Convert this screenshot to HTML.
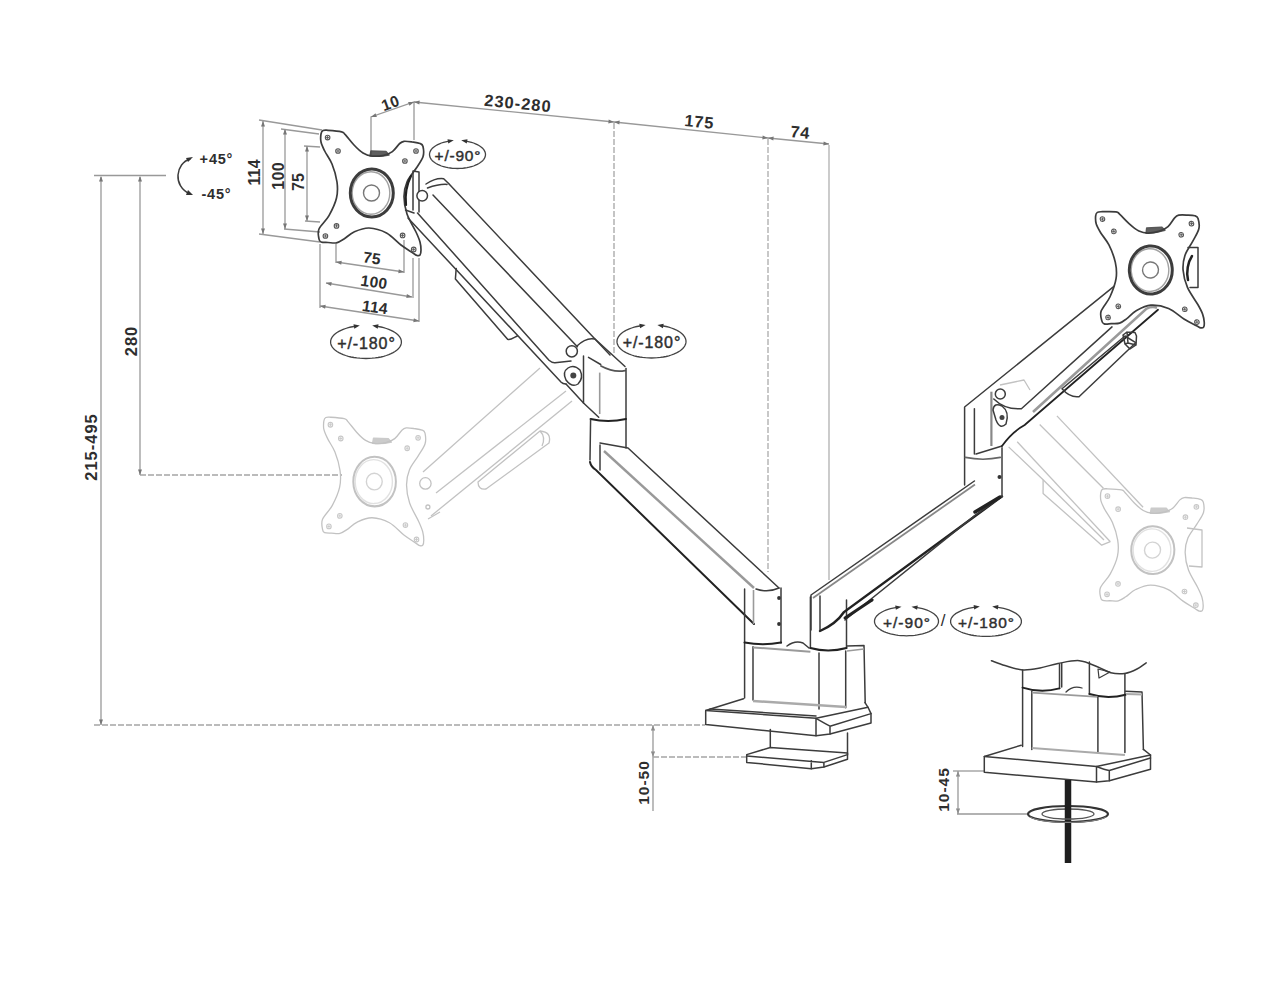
<!DOCTYPE html><html><head><meta charset="utf-8"><style>
*{margin:0;padding:0}
html,body{width:1270px;height:986px;background:#fff;overflow:hidden}
svg{display:block}
.m{color:#444;fill:none;stroke:#3c3c3c;stroke-width:1.5;stroke-linejoin:round;stroke-linecap:round}
.mf{color:#444;fill:#fff;stroke:#3c3c3c;stroke-width:1.5;stroke-linejoin:round}
.mh{fill:none;stroke:#555;stroke-width:1.1}
.k{fill:none;stroke:#222;stroke-width:2.4;stroke-linecap:round}
.lg{fill:none;stroke:#9a9a9a;stroke-width:1.6}
.d{fill:none;stroke:#999;stroke-width:1.3}
.dd{fill:none;stroke:#a5a5a5;stroke-width:1.3;stroke-dasharray:6 2}
.g{color:#c2c2c2;fill:none;stroke:#c2c2c2;stroke-width:1.3;stroke-linejoin:round}
.gh{fill:none;stroke:#c8c8c8;stroke-width:1.1}
.t{font-family:"Liberation Sans",sans-serif;font-size:15px;fill:#2e2e2e;font-weight:bold}
.ts{font-family:"Liberation Sans",sans-serif;font-size:13px;fill:#333;font-weight:bold}
</style></head><body>
<svg width="1270" height="986" viewBox="0 0 1270 986">
<defs><marker id="ar" viewBox="0 0 10 10" refX="10" refY="5" markerWidth="7" markerHeight="7" orient="auto-start-reverse"><path d="M0,2 L10,5 L0,8 z" fill="#777"/></marker></defs>
<line class="d" x1="94" y1="175.5" x2="166" y2="175.5"/>
<line class="d" x1="101" y1="725" x2="101" y2="177"/>
<line class="d" x1="140" y1="475" x2="140" y2="177"/>
<line class="dd" x1="94" y1="725" x2="705" y2="725"/>
<line class="dd" x1="140" y1="475" x2="342" y2="475"/>
<path class="m" d="M190,159 C176,163 172,186 190,194" />
<path d="M186,158 L193,157 L188,162 Z" fill="#333"/><path d="M186,195 L193,195 L188,190 Z" fill="#333"/>
<line class="d" x1="263" y1="121" x2="263" y2="234"/>
<line class="d" x1="259" y1="120" x2="322" y2="130"/><line class="d" x1="259" y1="234" x2="320" y2="242"/>
<line class="d" x1="285" y1="129" x2="285" y2="229"/>
<line class="d" x1="281" y1="129" x2="319" y2="134"/><line class="d" x1="284" y1="229" x2="320" y2="232"/>
<line class="d" x1="307" y1="146" x2="307" y2="221"/>
<line class="d" x1="304" y1="146" x2="320" y2="147"/><line class="d" x1="305" y1="221" x2="320" y2="222"/>
<line class="d" x1="336" y1="262" x2="404" y2="272"/>
<line class="d" x1="326" y1="283" x2="412" y2="297"/>
<line class="d" x1="320" y1="306" x2="419" y2="321"/>
<line class="d" x1="320" y1="244" x2="320" y2="308"/>
<line class="d" x1="336" y1="244" x2="336" y2="263"/>
<line class="d" x1="404" y1="240" x2="404" y2="273"/>
<line class="d" x1="413" y1="258" x2="413" y2="298"/>
<line class="d" x1="419" y1="258" x2="419" y2="322"/>
<polyline class="d" points="371,156 371,117 414,102 414,140"/>
<polyline class="d" points="414,102 614,122 768,138 829,144"/>
<line class="dd" x1="614" y1="123" x2="614" y2="354"/>
<line class="dd" x1="768" y1="139" x2="768" y2="572" style="stroke:#ababab"/>
<line class="d" x1="829" y1="145" x2="829" y2="580" style="stroke:#b0b0b0"/>
<path d="M101.0,176.0 L103.0,181.5 L99.0,181.5 Z" fill="#777"/><path d="M101.0,725.0 L99.0,719.5 L103.0,719.5 Z" fill="#777"/>
<path d="M140.0,176.0 L142.0,181.5 L138.0,181.5 Z" fill="#777"/><path d="M140.0,475.0 L138.0,469.5 L142.0,469.5 Z" fill="#777"/>
<path d="M263.0,121.0 L265.0,126.5 L261.0,126.5 Z" fill="#777"/><path d="M263.0,234.0 L261.0,228.5 L265.0,228.5 Z" fill="#777"/>
<path d="M285.0,129.0 L287.0,134.5 L283.0,134.5 Z" fill="#777"/><path d="M285.0,229.0 L283.0,223.5 L287.0,223.5 Z" fill="#777"/>
<path d="M307.0,146.0 L309.0,151.5 L305.0,151.5 Z" fill="#777"/><path d="M307.0,221.0 L305.0,215.5 L309.0,215.5 Z" fill="#777"/>
<path d="M336.0,262.0 L341.7,260.8 L341.2,264.8 Z" fill="#777"/><path d="M404.0,272.0 L398.3,273.2 L398.8,269.2 Z" fill="#777"/>
<path d="M326.0,283.0 L331.7,281.9 L331.1,285.9 Z" fill="#777"/><path d="M412.0,297.0 L406.3,298.1 L406.9,294.1 Z" fill="#777"/>
<path d="M320.0,306.0 L325.7,304.8 L325.1,308.8 Z" fill="#777"/><path d="M419.0,321.0 L413.3,322.2 L413.9,318.2 Z" fill="#777"/>
<path d="M371.0,117.0 L375.5,113.3 L376.9,117.1 Z" fill="#777"/><path d="M414.0,102.0 L409.5,105.7 L408.1,101.9 Z" fill="#777"/>
<path d="M414.0,102.0 L419.7,100.6 L419.3,104.5 Z" fill="#777"/><path d="M614.0,122.0 L608.3,123.4 L608.7,119.5 Z" fill="#777"/>
<path d="M614.0,122.0 L619.7,120.6 L619.3,124.6 Z" fill="#777"/><path d="M768.0,138.0 L762.3,139.4 L762.7,135.4 Z" fill="#777"/>
<path d="M768.0,138.0 L773.7,136.5 L773.3,140.5 Z" fill="#777"/><path d="M829.0,144.0 L823.3,145.5 L823.7,141.5 Z" fill="#777"/>
<path d="M653.0,725.0 L655.0,730.5 L651.0,730.5 Z" fill="#777"/><path d="M653.0,757.0 L651.0,751.5 L655.0,751.5 Z" fill="#777"/>
<path d="M958.0,771.0 L960.0,776.5 L956.0,776.5 Z" fill="#777"/><path d="M958.0,814.0 L956.0,808.5 L960.0,808.5 Z" fill="#777"/>
<line class="d" x1="653" y1="725" x2="653" y2="811"/>
<line class="dd" x1="653" y1="757" x2="747" y2="757"/>
<line class="d" x1="958" y1="771" x2="958" y2="814"/>
<line class="d" x1="953" y1="771" x2="984" y2="771"/>
<line class="d" x1="957" y1="814" x2="1029" y2="814"/>
<text class="t" transform="translate(91,447.5) rotate(-90)" text-anchor="middle" dominant-baseline="central" style="font-size:16.5px;letter-spacing:1.0px;font-weight:bold"><tspan dx="0.50">215-495</tspan></text>
<text class="t" transform="translate(130.5,341.5) rotate(-90)" text-anchor="middle" dominant-baseline="central" style="font-size:16.5px;letter-spacing:1.0px;font-weight:bold"><tspan dx="0.50">280</tspan></text>
<text class="t" transform="translate(216,158.5) rotate(0)" text-anchor="middle" dominant-baseline="central" style="font-size:14.5px;letter-spacing:0.8px;font-weight:bold"><tspan dx="0.40">+45°</tspan></text>
<text class="t" transform="translate(216,193.5) rotate(0)" text-anchor="middle" dominant-baseline="central" style="font-size:14.5px;letter-spacing:0.8px;font-weight:bold"><tspan dx="0.40">-45°</tspan></text>
<text class="t" transform="translate(254,172.5) rotate(-90)" text-anchor="middle" dominant-baseline="central" style="font-size:16px;letter-spacing:0.2px;font-weight:bold"><tspan dx="0.10">114</tspan></text>
<text class="t" transform="translate(277.5,176) rotate(-90)" text-anchor="middle" dominant-baseline="central" style="font-size:16px;letter-spacing:0.3px;font-weight:bold"><tspan dx="0.15">100</tspan></text>
<text class="t" transform="translate(298,182) rotate(-90)" text-anchor="middle" dominant-baseline="central" style="font-size:16px;letter-spacing:0.2px;font-weight:bold"><tspan dx="0.10">75</tspan></text>
<text class="t" transform="translate(372,257.5) rotate(8)" text-anchor="middle" dominant-baseline="central" style="font-size:15.5px;letter-spacing:0.3px;font-weight:bold"><tspan dx="0.15">75</tspan></text>
<text class="t" transform="translate(374,281.5) rotate(8)" text-anchor="middle" dominant-baseline="central" style="font-size:15.5px;letter-spacing:0.3px;font-weight:bold"><tspan dx="0.15">100</tspan></text>
<text class="t" transform="translate(375,306.5) rotate(8)" text-anchor="middle" dominant-baseline="central" style="font-size:15.5px;letter-spacing:0.3px;font-weight:bold"><tspan dx="0.15">114</tspan></text>
<text class="t" transform="translate(390,102.5) rotate(-20)" text-anchor="middle" dominant-baseline="central" style="font-size:15.5px;letter-spacing:0.3px;font-weight:bold"><tspan dx="0.15">10</tspan></text>
<text class="t" transform="translate(517.5,103) rotate(5.5)" text-anchor="middle" dominant-baseline="central" style="font-size:16.5px;letter-spacing:1.0px;font-weight:bold"><tspan dx="0.50">230-280</tspan></text>
<text class="t" transform="translate(699,121.5) rotate(5.5)" text-anchor="middle" dominant-baseline="central" style="font-size:16.5px;letter-spacing:0.8px;font-weight:bold"><tspan dx="0.40">175</tspan></text>
<text class="t" transform="translate(800,132) rotate(5.5)" text-anchor="middle" dominant-baseline="central" style="font-size:16.5px;letter-spacing:0.8px;font-weight:bold"><tspan dx="0.40">74</tspan></text>
<text class="t" transform="translate(642.5,783) rotate(-90)" text-anchor="middle" dominant-baseline="central" style="font-size:15.5px;letter-spacing:1.0px;font-weight:bold"><tspan dx="0.50">10-50</tspan></text>
<text class="t" transform="translate(942.5,790) rotate(-90)" text-anchor="middle" dominant-baseline="central" style="font-size:15.5px;letter-spacing:1.0px;font-weight:bold"><tspan dx="0.50">10-45</tspan></text>
<path class="m" d="M467.1,141.3 L469.3,141.8 L471.5,142.4 L473.6,143.0 L475.5,143.8 L477.3,144.6 L478.9,145.5 L480.4,146.5 L481.7,147.5 L482.9,148.6 L483.8,149.7 L484.5,150.9 L485.1,152.1 L485.4,153.3 L485.5,154.5 L485.4,155.7 L485.1,156.9 L484.5,158.1 L483.8,159.3 L482.9,160.4 L481.7,161.5 L480.4,162.5 L478.9,163.5 L477.3,164.4 L475.5,165.2 L473.6,166.0 L471.5,166.6 L469.3,167.2 L467.1,167.7 L464.7,168.0 L462.4,168.3 L459.9,168.4 L457.5,168.5 L455.1,168.4 L452.6,168.3 L450.3,168.0 L447.9,167.7 L445.7,167.2 L443.5,166.6 L441.4,166.0 L439.5,165.2 L437.7,164.4 L436.1,163.5 L434.6,162.5 L433.3,161.5 L432.1,160.4 L431.2,159.3 L430.5,158.1 L429.9,156.9 L429.6,155.7 L429.5,154.5 L429.6,153.3 L429.9,152.1 L430.5,150.9 L431.2,149.7 L432.1,148.6 L433.3,147.5 L434.6,146.5 L436.1,145.5 L437.7,144.6 L439.5,143.8 L441.4,143.0 L443.5,142.4 L445.7,141.8 L447.9,141.3" style="stroke-width:1.3;stroke:#444"/>
<path d="M453.8,140.3 L448.3,143.5 L447.5,139.2 Z" fill="#333"/>
<path d="M461.2,140.3 L467.5,139.2 L466.7,143.5 Z" fill="#333"/>
<text class="t" stroke="#333" stroke-width="0.45" transform="translate(457.5,155.0) rotate(0)" text-anchor="middle" dominant-baseline="central" style="font-size:15.5px;letter-spacing:0.8px;font-weight:normal"><tspan dx="0.40">+/-90°</tspan></text>
<path class="m" d="M378.1,326.5 L381.0,327.0 L383.7,327.7 L386.3,328.5 L388.8,329.4 L391.0,330.3 L393.1,331.4 L395.0,332.5 L396.7,333.8 L398.1,335.0 L399.3,336.4 L400.2,337.7 L400.9,339.1 L401.3,340.6 L401.4,342.0 L401.3,343.4 L400.9,344.9 L400.2,346.3 L399.3,347.6 L398.1,349.0 L396.7,350.2 L395.0,351.5 L393.1,352.6 L391.0,353.7 L388.8,354.6 L386.3,355.5 L383.7,356.3 L381.0,357.0 L378.1,357.5 L375.2,357.9 L372.1,358.2 L369.1,358.4 L366.0,358.5 L362.9,358.4 L359.9,358.2 L356.8,357.9 L353.9,357.5 L351.0,357.0 L348.3,356.3 L345.7,355.5 L343.2,354.6 L341.0,353.7 L338.9,352.6 L337.0,351.5 L335.3,350.2 L333.9,349.0 L332.7,347.6 L331.8,346.3 L331.1,344.9 L330.7,343.4 L330.6,342.0 L330.7,340.6 L331.1,339.1 L331.8,337.7 L332.7,336.4 L333.9,335.0 L335.3,333.8 L337.0,332.5 L338.9,331.4 L341.0,330.3 L343.2,329.4 L345.7,328.5 L348.3,327.7 L351.0,327.0 L353.9,326.5" style="stroke-width:1.3;stroke:#444"/>
<path d="M359.8,325.5 L354.3,328.7 L353.5,324.3 Z" fill="#333"/>
<path d="M372.2,325.5 L378.5,324.3 L377.7,328.7 Z" fill="#333"/>
<text class="t" stroke="#333" stroke-width="0.45" transform="translate(366,342.5) rotate(0)" text-anchor="middle" dominant-baseline="central" style="font-size:16px;letter-spacing:0.9px;font-weight:normal"><tspan dx="0.45">+/-180°</tspan></text>
<path class="m" d="M663.3,326.0 L666.1,326.5 L668.8,327.2 L671.3,328.0 L673.7,328.9 L675.9,329.8 L677.9,330.9 L679.8,332.0 L681.4,333.2 L682.8,334.5 L683.9,335.9 L684.8,337.2 L685.5,338.6 L685.9,340.1 L686.0,341.5 L685.9,342.9 L685.5,344.4 L684.8,345.8 L683.9,347.1 L682.8,348.5 L681.4,349.8 L679.8,351.0 L677.9,352.1 L675.9,353.2 L673.7,354.1 L671.3,355.0 L668.8,355.8 L666.1,356.5 L663.3,357.0 L660.4,357.4 L657.5,357.7 L654.5,357.9 L651.5,358.0 L648.5,357.9 L645.5,357.7 L642.6,357.4 L639.7,357.0 L636.9,356.5 L634.2,355.8 L631.7,355.0 L629.3,354.1 L627.1,353.2 L625.1,352.1 L623.2,351.0 L621.6,349.8 L620.2,348.5 L619.1,347.1 L618.2,345.8 L617.5,344.4 L617.1,342.9 L617.0,341.5 L617.1,340.1 L617.5,338.6 L618.2,337.2 L619.1,335.9 L620.2,334.5 L621.6,333.2 L623.2,332.0 L625.1,330.9 L627.1,329.8 L629.3,328.9 L631.7,328.0 L634.2,327.2 L636.9,326.5 L639.7,326.0" style="stroke-width:1.3;stroke:#444"/>
<path d="M645.6,325.0 L640.1,328.2 L639.3,323.8 Z" fill="#333"/>
<path d="M657.4,325.0 L663.7,323.8 L662.9,328.2 Z" fill="#333"/>
<text class="t" stroke="#333" stroke-width="0.45" transform="translate(651.5,342.0) rotate(0)" text-anchor="middle" dominant-baseline="central" style="font-size:16px;letter-spacing:0.9px;font-weight:normal"><tspan dx="0.45">+/-180°</tspan></text>
<path class="m" d="M917.4,607.7 L920.0,608.2 L922.5,608.7 L924.9,609.4 L927.1,610.2 L929.1,611.0 L931.0,612.0 L932.7,613.0 L934.2,614.0 L935.5,615.2 L936.6,616.3 L937.4,617.5 L938.0,618.8 L938.4,620.0 L938.5,621.3 L938.4,622.6 L938.0,623.8 L937.4,625.1 L936.6,626.3 L935.5,627.4 L934.2,628.5 L932.7,629.6 L931.0,630.6 L929.1,631.6 L927.1,632.4 L924.9,633.2 L922.5,633.9 L920.0,634.4 L917.4,634.9 L914.8,635.3 L912.1,635.6 L909.3,635.7 L906.5,635.8 L903.7,635.7 L900.9,635.6 L898.2,635.3 L895.6,634.9 L893.0,634.4 L890.5,633.9 L888.1,633.2 L885.9,632.4 L883.9,631.6 L882.0,630.6 L880.3,629.6 L878.8,628.5 L877.5,627.4 L876.4,626.3 L875.6,625.1 L875.0,623.8 L874.6,622.6 L874.5,621.3 L874.6,620.0 L875.0,618.8 L875.6,617.5 L876.4,616.3 L877.5,615.2 L878.8,614.0 L880.3,613.0 L882.0,612.0 L883.9,611.0 L885.9,610.2 L888.1,609.4 L890.5,608.7 L893.0,608.2 L895.6,607.7" style="stroke-width:1.3;stroke:#444"/>
<path d="M901.5,606.7 L895.9,609.8 L895.2,605.5 Z" fill="#333"/>
<path d="M911.5,606.7 L917.8,605.5 L917.1,609.8 Z" fill="#333"/>
<text class="t" stroke="#333" stroke-width="0.45" transform="translate(906.5,621.8) rotate(0)" text-anchor="middle" dominant-baseline="central" style="font-size:15.5px;letter-spacing:1.0px;font-weight:normal"><tspan dx="0.50">+/-90°</tspan></text>
<text class="t" transform="translate(943,620) rotate(0)" text-anchor="middle" dominant-baseline="central" style="font-size:17px;letter-spacing:0px;font-weight:normal"><tspan dx="0.00">/</tspan></text>
<path class="m" d="M998.1,607.3 L1001.0,607.8 L1003.7,608.4 L1006.3,609.1 L1008.8,609.9 L1011.0,610.8 L1013.1,611.8 L1015.0,612.8 L1016.7,613.9 L1018.1,615.1 L1019.3,616.3 L1020.2,617.5 L1020.9,618.8 L1021.3,620.1 L1021.4,621.4 L1021.3,622.7 L1020.9,624.0 L1020.2,625.3 L1019.3,626.5 L1018.1,627.7 L1016.7,628.9 L1015.0,630.0 L1013.1,631.0 L1011.0,632.0 L1008.8,632.9 L1006.3,633.7 L1003.7,634.4 L1001.0,635.0 L998.1,635.5 L995.2,635.9 L992.1,636.2 L989.1,636.3 L986.0,636.4 L982.9,636.3 L979.9,636.2 L976.8,635.9 L973.9,635.5 L971.0,635.0 L968.3,634.4 L965.7,633.7 L963.2,632.9 L961.0,632.0 L958.9,631.0 L957.0,630.0 L955.3,628.9 L953.9,627.7 L952.7,626.5 L951.8,625.3 L951.1,624.0 L950.7,622.7 L950.6,621.4 L950.7,620.1 L951.1,618.8 L951.8,617.5 L952.7,616.3 L953.9,615.1 L955.3,613.9 L957.0,612.8 L958.9,611.8 L961.0,610.8 L963.2,609.9 L965.7,609.1 L968.3,608.4 L971.0,607.8 L973.9,607.3" style="stroke-width:1.3;stroke:#444"/>
<path d="M979.8,606.4 L974.2,609.5 L973.6,605.1 Z" fill="#333"/>
<path d="M992.2,606.4 L998.4,605.1 L997.8,609.5 Z" fill="#333"/>
<text class="t" stroke="#333" stroke-width="0.45" transform="translate(986,621.9) rotate(0)" text-anchor="middle" dominant-baseline="central" style="font-size:15.5px;letter-spacing:0.9px;font-weight:normal"><tspan dx="0.45">+/-180°</tspan></text>
<g transform="matrix(0.99095,-0.00912,0.00711,1.03256,4.789,285.703)"><path class="g" d="M321.0,142.0 C320.4,139.2 320.7,135.9 321.0,134.0 C321.3,132.1 321.8,131.1 323.0,130.5 C324.2,129.9 324.9,130.1 328.0,130.3 C331.1,130.5 338.7,131.1 341.6,131.8 C344.5,132.5 343.2,132.5 345.3,134.7 C347.4,136.9 351.1,141.9 354.0,145.0 C356.9,148.1 360.0,151.2 363.0,153.0 C366.0,154.8 368.4,155.6 371.8,156.0 C375.2,156.4 380.1,156.0 383.5,155.3 C386.9,154.6 389.7,153.6 392.4,151.6 C395.1,149.6 397.8,145.2 399.7,143.5 C401.6,141.8 401.9,141.6 404.0,141.3 C406.1,141.1 409.3,141.6 412.0,142.0 C414.7,142.4 418.2,142.8 420.0,143.5 C421.8,144.2 422.5,144.3 423.0,146.5 C423.5,148.7 424.2,153.1 423.0,156.8 C421.8,160.5 418.7,164.3 416.0,168.5 C413.3,172.7 409.0,177.3 407.0,182.0 C405.0,186.7 404.0,191.2 404.0,196.5 C404.0,201.8 405.0,208.1 407.0,214.0 C409.0,219.9 413.8,227.3 416.0,232.0 C418.2,236.7 419.2,239.0 420.0,242.0 C420.8,245.0 421.0,247.8 421.0,250.0 C421.0,252.2 420.7,254.1 420.0,255.0 C419.3,255.9 418.2,255.8 417.0,255.5 C415.8,255.2 415.7,254.8 413.0,253.0 C410.3,251.2 405.4,248.3 401.0,245.0 C396.6,241.7 391.8,235.8 386.5,233.0 C381.2,230.2 374.4,228.2 369.0,228.0 C363.6,227.8 358.2,230.2 354.0,232.0 C349.8,233.8 346.9,237.2 344.0,239.0 C341.1,240.8 339.2,242.2 336.5,242.8 C333.8,243.4 330.6,242.6 328.0,242.5 C325.4,242.4 322.5,242.6 321.0,242.0 C319.5,241.4 319.3,241.2 319.0,239.0 C318.7,236.8 317.3,232.9 319.0,229.0 C320.7,225.1 326.1,220.8 329.0,215.6 C331.9,210.4 335.2,203.6 336.5,198.0 C337.8,192.4 337.8,187.7 337.0,182.0 C336.2,176.3 334.1,169.2 332.0,164.0 C329.9,158.8 326.5,154.7 324.7,151.0 C322.9,147.3 321.6,144.8 321.0,142.0 Z" style="stroke-width:1.3"/>
<circle class="gh" cx="327.6" cy="137.6" r="2.3"/><path class="gh" d="M326.0,137.6 h3.2 M327.6,136.0 v3.2" style="stroke-width:0.9"/>
<circle class="gh" cx="338" cy="151" r="2.3"/><path class="gh" d="M336.4,151 h3.2 M338,149.4 v3.2" style="stroke-width:0.9"/>
<circle class="gh" cx="416" cy="151" r="2.3"/><path class="gh" d="M414.4,151 h3.2 M416,149.4 v3.2" style="stroke-width:0.9"/>
<circle class="gh" cx="404.9" cy="161" r="2.3"/><path class="gh" d="M403.29999999999995,161 h3.2 M404.9,159.4 v3.2" style="stroke-width:0.9"/>
<circle class="gh" cx="336.5" cy="225.9" r="2.3"/><path class="gh" d="M334.9,225.9 h3.2 M336.5,224.3 v3.2" style="stroke-width:0.9"/>
<circle class="gh" cx="325.4" cy="236" r="2.3"/><path class="gh" d="M323.79999999999995,236 h3.2 M325.4,234.4 v3.2" style="stroke-width:0.9"/>
<circle class="gh" cx="402.6" cy="235.4" r="2.3"/><path class="gh" d="M401.0,235.4 h3.2 M402.6,233.8 v3.2" style="stroke-width:0.9"/>
<circle class="gh" cx="413.7" cy="249.4" r="2.3"/><path class="gh" d="M412.09999999999997,249.4 h3.2 M413.7,247.8 v3.2" style="stroke-width:0.9"/>
<ellipse class="g" cx="371.8" cy="193" rx="21.5" ry="24" style="stroke-width:2"/>
<ellipse class="gh" cx="371" cy="193" rx="18.8" ry="21.3" style="stroke-width:1.4;opacity:0.55"/>
<circle class="gh" cx="371.5" cy="193" r="8" style="stroke-width:1.4;opacity:0.8"/>
<path class="g" d="M370,156 L371,151 L386,151.5 L389,155 Q380,157 370,156 Z" style="fill:currentColor;opacity:0.85"/></g>
<line class="g" x1="423" y1="472" x2="540" y2="368"/>
<line class="g" x1="436" y1="493" x2="566" y2="391"/>
<line class="g" x1="431" y1="516" x2="572" y2="401"/>
<path class="g" d="M428,519 L440,512"/>
<circle class="g" cx="425.4" cy="483.4" r="5.7"/>
<circle class="g" cx="427.9" cy="507" r="2"/>
<path class="g" d="M478,482 L540,431 Q552,432 549,443 L486,489 Q478,490 478,482 Z"/>
<path class="g" d="M540,431 Q546,437 542,446"/>
<g transform="matrix(1.00305,-0.02933,0.01824,0.99765,776.347,368.450)"><path class="g" d="M321.0,142.0 C320.4,139.2 320.7,135.9 321.0,134.0 C321.3,132.1 321.8,131.1 323.0,130.5 C324.2,129.9 324.9,130.1 328.0,130.3 C331.1,130.5 338.7,131.1 341.6,131.8 C344.5,132.5 343.2,132.5 345.3,134.7 C347.4,136.9 351.1,141.9 354.0,145.0 C356.9,148.1 360.0,151.2 363.0,153.0 C366.0,154.8 368.4,155.6 371.8,156.0 C375.2,156.4 380.1,156.0 383.5,155.3 C386.9,154.6 389.7,153.6 392.4,151.6 C395.1,149.6 397.8,145.2 399.7,143.5 C401.6,141.8 401.9,141.6 404.0,141.3 C406.1,141.1 409.3,141.6 412.0,142.0 C414.7,142.4 418.2,142.8 420.0,143.5 C421.8,144.2 422.5,144.3 423.0,146.5 C423.5,148.7 424.2,153.1 423.0,156.8 C421.8,160.5 418.7,164.3 416.0,168.5 C413.3,172.7 409.0,177.3 407.0,182.0 C405.0,186.7 404.0,191.2 404.0,196.5 C404.0,201.8 405.0,208.1 407.0,214.0 C409.0,219.9 413.8,227.3 416.0,232.0 C418.2,236.7 419.2,239.0 420.0,242.0 C420.8,245.0 421.0,247.8 421.0,250.0 C421.0,252.2 420.7,254.1 420.0,255.0 C419.3,255.9 418.2,255.8 417.0,255.5 C415.8,255.2 415.7,254.8 413.0,253.0 C410.3,251.2 405.4,248.3 401.0,245.0 C396.6,241.7 391.8,235.8 386.5,233.0 C381.2,230.2 374.4,228.2 369.0,228.0 C363.6,227.8 358.2,230.2 354.0,232.0 C349.8,233.8 346.9,237.2 344.0,239.0 C341.1,240.8 339.2,242.2 336.5,242.8 C333.8,243.4 330.6,242.6 328.0,242.5 C325.4,242.4 322.5,242.6 321.0,242.0 C319.5,241.4 319.3,241.2 319.0,239.0 C318.7,236.8 317.3,232.9 319.0,229.0 C320.7,225.1 326.1,220.8 329.0,215.6 C331.9,210.4 335.2,203.6 336.5,198.0 C337.8,192.4 337.8,187.7 337.0,182.0 C336.2,176.3 334.1,169.2 332.0,164.0 C329.9,158.8 326.5,154.7 324.7,151.0 C322.9,147.3 321.6,144.8 321.0,142.0 Z" style="stroke-width:1.3"/>
<circle class="gh" cx="327.6" cy="137.6" r="2.3"/><path class="gh" d="M326.0,137.6 h3.2 M327.6,136.0 v3.2" style="stroke-width:0.9"/>
<circle class="gh" cx="338" cy="151" r="2.3"/><path class="gh" d="M336.4,151 h3.2 M338,149.4 v3.2" style="stroke-width:0.9"/>
<circle class="gh" cx="416" cy="151" r="2.3"/><path class="gh" d="M414.4,151 h3.2 M416,149.4 v3.2" style="stroke-width:0.9"/>
<circle class="gh" cx="404.9" cy="161" r="2.3"/><path class="gh" d="M403.29999999999995,161 h3.2 M404.9,159.4 v3.2" style="stroke-width:0.9"/>
<circle class="gh" cx="336.5" cy="225.9" r="2.3"/><path class="gh" d="M334.9,225.9 h3.2 M336.5,224.3 v3.2" style="stroke-width:0.9"/>
<circle class="gh" cx="325.4" cy="236" r="2.3"/><path class="gh" d="M323.79999999999995,236 h3.2 M325.4,234.4 v3.2" style="stroke-width:0.9"/>
<circle class="gh" cx="402.6" cy="235.4" r="2.3"/><path class="gh" d="M401.0,235.4 h3.2 M402.6,233.8 v3.2" style="stroke-width:0.9"/>
<circle class="gh" cx="413.7" cy="249.4" r="2.3"/><path class="gh" d="M412.09999999999997,249.4 h3.2 M413.7,247.8 v3.2" style="stroke-width:0.9"/>
<ellipse class="g" cx="371.8" cy="193" rx="21.5" ry="24" style="stroke-width:2"/>
<ellipse class="gh" cx="371" cy="193" rx="18.8" ry="21.3" style="stroke-width:1.4;opacity:0.55"/>
<circle class="gh" cx="371.5" cy="193" r="8" style="stroke-width:1.4;opacity:0.8"/>
<path class="g" d="M370,156 L371,151 L386,151.5 L389,155 Q380,157 370,156 Z" style="fill:currentColor;opacity:0.85"/></g>
<line class="g" x1="1056.9" y1="415.9" x2="1143.1" y2="507.2"/>
<line class="g" x1="1039.7" y1="424.5" x2="1103.4" y2="488.3"/>
<line class="g" x1="1017.2" y1="441.7" x2="1110.3" y2="541.7"/>
<path class="g" d="M1008.6,446.9 L1043.1,479.7 L1043.1,493.4 L1101.7,545.2 L1110.3,541.7"/>
<line class="g" x1="1043.1" y1="479.7" x2="1104" y2="540"/>
<path class="g" d="M1187,528 L1202,530 L1202,567 L1189,566"/>
<path class="m" d="M321.0,142.0 C320.4,139.2 320.7,135.9 321.0,134.0 C321.3,132.1 321.8,131.1 323.0,130.5 C324.2,129.9 324.9,130.1 328.0,130.3 C331.1,130.5 338.7,131.1 341.6,131.8 C344.5,132.5 343.2,132.5 345.3,134.7 C347.4,136.9 351.1,141.9 354.0,145.0 C356.9,148.1 360.0,151.2 363.0,153.0 C366.0,154.8 368.4,155.6 371.8,156.0 C375.2,156.4 380.1,156.0 383.5,155.3 C386.9,154.6 389.7,153.6 392.4,151.6 C395.1,149.6 397.8,145.2 399.7,143.5 C401.6,141.8 401.9,141.6 404.0,141.3 C406.1,141.1 409.3,141.6 412.0,142.0 C414.7,142.4 418.2,142.8 420.0,143.5 C421.8,144.2 422.5,144.3 423.0,146.5 C423.5,148.7 424.2,153.1 423.0,156.8 C421.8,160.5 418.7,164.3 416.0,168.5 C413.3,172.7 409.0,177.3 407.0,182.0 C405.0,186.7 404.0,191.2 404.0,196.5 C404.0,201.8 405.0,208.1 407.0,214.0 C409.0,219.9 413.8,227.3 416.0,232.0 C418.2,236.7 419.2,239.0 420.0,242.0 C420.8,245.0 421.0,247.8 421.0,250.0 C421.0,252.2 420.7,254.1 420.0,255.0 C419.3,255.9 418.2,255.8 417.0,255.5 C415.8,255.2 415.7,254.8 413.0,253.0 C410.3,251.2 405.4,248.3 401.0,245.0 C396.6,241.7 391.8,235.8 386.5,233.0 C381.2,230.2 374.4,228.2 369.0,228.0 C363.6,227.8 358.2,230.2 354.0,232.0 C349.8,233.8 346.9,237.2 344.0,239.0 C341.1,240.8 339.2,242.2 336.5,242.8 C333.8,243.4 330.6,242.6 328.0,242.5 C325.4,242.4 322.5,242.6 321.0,242.0 C319.5,241.4 319.3,241.2 319.0,239.0 C318.7,236.8 317.3,232.9 319.0,229.0 C320.7,225.1 326.1,220.8 329.0,215.6 C331.9,210.4 335.2,203.6 336.5,198.0 C337.8,192.4 337.8,187.7 337.0,182.0 C336.2,176.3 334.1,169.2 332.0,164.0 C329.9,158.8 326.5,154.7 324.7,151.0 C322.9,147.3 321.6,144.8 321.0,142.0 Z" style="stroke-width:1.7"/>
<circle class="mh" cx="327.6" cy="137.6" r="2.3"/><path class="mh" d="M326.0,137.6 h3.2 M327.6,136.0 v3.2" style="stroke-width:0.9"/>
<circle class="mh" cx="338" cy="151" r="2.3"/><path class="mh" d="M336.4,151 h3.2 M338,149.4 v3.2" style="stroke-width:0.9"/>
<circle class="mh" cx="416" cy="151" r="2.3"/><path class="mh" d="M414.4,151 h3.2 M416,149.4 v3.2" style="stroke-width:0.9"/>
<circle class="mh" cx="404.9" cy="161" r="2.3"/><path class="mh" d="M403.29999999999995,161 h3.2 M404.9,159.4 v3.2" style="stroke-width:0.9"/>
<circle class="mh" cx="336.5" cy="225.9" r="2.3"/><path class="mh" d="M334.9,225.9 h3.2 M336.5,224.3 v3.2" style="stroke-width:0.9"/>
<circle class="mh" cx="325.4" cy="236" r="2.3"/><path class="mh" d="M323.79999999999995,236 h3.2 M325.4,234.4 v3.2" style="stroke-width:0.9"/>
<circle class="mh" cx="402.6" cy="235.4" r="2.3"/><path class="mh" d="M401.0,235.4 h3.2 M402.6,233.8 v3.2" style="stroke-width:0.9"/>
<circle class="mh" cx="413.7" cy="249.4" r="2.3"/><path class="mh" d="M412.09999999999997,249.4 h3.2 M413.7,247.8 v3.2" style="stroke-width:0.9"/>
<ellipse class="m" cx="371.8" cy="193" rx="21.5" ry="24" style="stroke-width:3"/>
<ellipse class="mh" cx="371" cy="193" rx="18.8" ry="21.3" style="stroke-width:1.4;opacity:0.55"/>
<circle class="mh" cx="371.5" cy="193" r="8" style="stroke-width:1.4;opacity:0.8"/>
<path class="m" d="M370,156 L371,151 L386,151.5 L389,155 Q380,157 370,156 Z" style="fill:currentColor;opacity:0.85"/>
<path class="m" d="M413,210 L413,171 L419,172 L419,212"/>
<path class="k" d="M411,176 C406,186 405,196 406,205" style="stroke-width:2.2"/>
<circle class="mf" cx="422.2" cy="195.7" r="5.3"/>
<path class="m" d="M426,184 C432,180 438,178 443.7,178.7 L448.6,183.5"/>
<path class="m" d="M427.5,188 C433,186 440,184 447,184.4"/>
<path class="m" d="M405.5,210 L414,213"/>
<line class="m" x1="448.6" y1="183.5" x2="610" y2="355"/>
<line class="m" x1="433" y1="195" x2="577.4" y2="346.8"/>
<path class="m" d="M417.5,213 L549,360.3 Q552,363 555,362.8 L571,361"/>
<path class="m" d="M408,218 L561.2,382.2 Q563,384 566,383.9"/>
<path class="m" d="M456.2,268.4 L455.4,279 L507.6,339.2 Q510,340 514,337.6 L517.3,336"/>
<path class="m" d="M566,384 L583.5,403 L598.7,417.2"/>
<circle class="mf" cx="571.8" cy="351.3" r="5.6"/>
<path class="m" d="M566,380 Q562,372 568,368 Q574,364 580,370 Q584,378 578,384 Q572,388 566,380"/>
<circle cx="573.3" cy="375.6" r="3" fill="#444"/>
<path class="m" d="M577,346 Q586,337 595,339 L625,366.5"/>
<path class="m" d="M588.5,357.4 L600.7,364.5"/>
<path class="k" d="M601,366 Q614,373 625,370.6" style="stroke-width:1.8;stroke:#555"/>
<polyline class="m" points="583.5,356 583.5,403"/>
<line class="lg" x1="599.7" y1="372.6" x2="599.7" y2="414"/>
<line class="m" x1="626" y1="368.5" x2="626" y2="448"/>
<path class="k" d="M590.6,419 Q608,423 626,419" style="stroke-width:2"/>
<line class="m" x1="590.6" y1="419" x2="590" y2="460"/>
<path class="m" d="M600,443 L628,448 L779,588"/>
<line class="lg" x1="604" y1="451" x2="754" y2="588" style="stroke-width:2.4;stroke:#999"/>
<path class="k" d="M590,462 Q591,467 596,470 L754,624" style="stroke-width:2"/>
<line class="m" x1="600" y1="445" x2="600" y2="470"/>
<path class="m" d="M756,589 Q768,593 779,588"/>
<path class="m" d="M744.6,589 L744.6,698 M781,588 L781,643"/>
<line class="lg" x1="753.5" y1="590" x2="753.5" y2="624"/>
<line class="m" x1="753" y1="646.8" x2="753" y2="700"/>
<path class="k" d="M744.6,642.5 Q763,646 781,642.5" style="stroke-width:2.2"/>
<circle cx="779" cy="598" r="1.9" fill="#333"/><circle cx="779" cy="624" r="1.9" fill="#333"/>
<path class="lg" d="M753,647.4 L810.4,651.7" style="stroke-width:2"/>
<path class="m" d="M787,646 Q795,640 803,643 L809,648"/>
<path class="m" d="M810.4,597 L810.4,648 M846.5,600 L846.5,648"/>
<path class="k" d="M810.4,648 Q828,653 846.5,648" style="stroke-width:2.2"/>
<line class="m" x1="819" y1="653" x2="819" y2="709"/>
<line class="m" x1="845.7" y1="651" x2="845.7" y2="707.7"/>
<path class="m" d="M847,646 L864,645.6 L865.2,702.8"/>
<path class="lg" d="M847,651 L864,649"/>
<path class="m" d="M743.5,698.7 L705.7,710.5 L705.7,724.6 L816,735.7 L830,734 L871,723 L871,713.6 L868,707.3 L865,702.6"/>
<path class="m" d="M705.7,710.5 L816,718.3 L868,707.3"/>
<path class="m" d="M710,709 L816,716"/>
<path class="m" d="M816,718.3 L816,735.7 M816,718.3 Q826,724 830,726.2 L830,734 M830,726.2 L871,713.6"/>
<path class="lg" d="M753,701 L846,707" style="stroke-width:2.5;stroke:#aaa"/>
<line class="m" x1="770.3" y1="729.4" x2="770.3" y2="746.7"/>
<line class="m" x1="847.5" y1="733" x2="847.5" y2="754"/>
<path class="m" d="M770.3,747.5 L847.5,753 L847.5,759.3 L823.9,767 L811.3,768.7 L746.7,762.4 L746.7,754.6 Z"/>
<path class="m" d="M746.7,756 L823.9,762.4 L847.5,754.6 M811.3,761 L811.3,768.7 M823.9,762.4 L823.9,767"/>
<path class="m" d="M811,630 L811,595 L974.4,481"/>
<path class="lg" d="M813,598 L975,484.5" style="stroke-width:1.8;stroke:#888"/>
<line class="m" x1="820" y1="596" x2="820" y2="630"/>
<path class="k" d="M820,631 Q836,624 844,612 L1002,496.4" style="stroke-width:2.4"/>
<path class="m" d="M845,620 L974.4,515.8 L1002,496.4"/>
<path class="k" d="M845,618 L872,600" style="stroke-width:3"/>
<path class="k" d="M975,512 L1000,497" style="stroke-width:3.5"/>
<path class="m" d="M964.6,485 L964.6,407 L1115.5,285.2"/>
<line class="m" x1="974.4" y1="408.7" x2="974.4" y2="454"/>
<line class="lg" x1="991.4" y1="391.7" x2="991.4" y2="446" style="stroke-width:2.2;stroke:#888"/>
<path class="k" d="M965.4,457.4 Q983,461 1000.3,457.4" style="stroke-width:1.6;stroke:#666"/>
<line class="m" x1="1002" y1="447.7" x2="1002" y2="497"/>
<circle cx="999.5" cy="477" r="2" fill="#333"/>
<path class="m" d="M976,454 L1002,446"/>
<path class="m" d="M993.8,399 Q1005,410 1021.4,408.7 L1112,326.9"/>
<path class="k" d="M1002,446 Q1012,432 1024.7,425 L1158,309.8" style="stroke-width:1.8"/>
<path class="lg" d="M1033,412 L1146.6,308.6 Q1152,306 1157,307.7" style="stroke-width:2.6;stroke:#9a9a9a"/>
<path class="m" d="M1062,388.8 L1125,336 L1135.7,342.7 L1079,396.7 Q1070,398 1062,388.8 Z"/>
<path class="m" d="M1123,335 L1127,332 L1135,332.5 L1136.5,336 L1136,345 L1130,349 L1125,344 Z M1127,332 L1128,343 L1136,345 M1128,343 L1125,344"/>
<circle class="mf" cx="1000.3" cy="394" r="5"/>
<path class="m" d="M993,410 Q994,402 1002,406 Q1010,412 1006,424 Q1000,430 996,420 Z"/>
<circle cx="1002" cy="417.6" r="2.5" fill="#444"/>
<path class="g" d="M1000,385 L1024,380 L1030,390"/>
<g transform="matrix(0.99442,-0.09873,0.07899,0.99820,765.829,114.023)"><path class="mf" d="M321.0,142.0 C320.4,139.2 320.7,135.9 321.0,134.0 C321.3,132.1 321.8,131.1 323.0,130.5 C324.2,129.9 324.9,130.1 328.0,130.3 C331.1,130.5 338.7,131.1 341.6,131.8 C344.5,132.5 343.2,132.5 345.3,134.7 C347.4,136.9 351.1,141.9 354.0,145.0 C356.9,148.1 360.0,151.2 363.0,153.0 C366.0,154.8 368.4,155.6 371.8,156.0 C375.2,156.4 380.1,156.0 383.5,155.3 C386.9,154.6 389.7,153.6 392.4,151.6 C395.1,149.6 397.8,145.2 399.7,143.5 C401.6,141.8 401.9,141.6 404.0,141.3 C406.1,141.1 409.3,141.6 412.0,142.0 C414.7,142.4 418.2,142.8 420.0,143.5 C421.8,144.2 422.5,144.3 423.0,146.5 C423.5,148.7 424.2,153.1 423.0,156.8 C421.8,160.5 418.7,164.3 416.0,168.5 C413.3,172.7 409.0,177.3 407.0,182.0 C405.0,186.7 404.0,191.2 404.0,196.5 C404.0,201.8 405.0,208.1 407.0,214.0 C409.0,219.9 413.8,227.3 416.0,232.0 C418.2,236.7 419.2,239.0 420.0,242.0 C420.8,245.0 421.0,247.8 421.0,250.0 C421.0,252.2 420.7,254.1 420.0,255.0 C419.3,255.9 418.2,255.8 417.0,255.5 C415.8,255.2 415.7,254.8 413.0,253.0 C410.3,251.2 405.4,248.3 401.0,245.0 C396.6,241.7 391.8,235.8 386.5,233.0 C381.2,230.2 374.4,228.2 369.0,228.0 C363.6,227.8 358.2,230.2 354.0,232.0 C349.8,233.8 346.9,237.2 344.0,239.0 C341.1,240.8 339.2,242.2 336.5,242.8 C333.8,243.4 330.6,242.6 328.0,242.5 C325.4,242.4 322.5,242.6 321.0,242.0 C319.5,241.4 319.3,241.2 319.0,239.0 C318.7,236.8 317.3,232.9 319.0,229.0 C320.7,225.1 326.1,220.8 329.0,215.6 C331.9,210.4 335.2,203.6 336.5,198.0 C337.8,192.4 337.8,187.7 337.0,182.0 C336.2,176.3 334.1,169.2 332.0,164.0 C329.9,158.8 326.5,154.7 324.7,151.0 C322.9,147.3 321.6,144.8 321.0,142.0 Z" style="stroke-width:1.7"/>
<circle class="mh" cx="327.6" cy="137.6" r="2.3"/><path class="mh" d="M326.0,137.6 h3.2 M327.6,136.0 v3.2" style="stroke-width:0.9"/>
<circle class="mh" cx="338" cy="151" r="2.3"/><path class="mh" d="M336.4,151 h3.2 M338,149.4 v3.2" style="stroke-width:0.9"/>
<circle class="mh" cx="416" cy="151" r="2.3"/><path class="mh" d="M414.4,151 h3.2 M416,149.4 v3.2" style="stroke-width:0.9"/>
<circle class="mh" cx="404.9" cy="161" r="2.3"/><path class="mh" d="M403.29999999999995,161 h3.2 M404.9,159.4 v3.2" style="stroke-width:0.9"/>
<circle class="mh" cx="336.5" cy="225.9" r="2.3"/><path class="mh" d="M334.9,225.9 h3.2 M336.5,224.3 v3.2" style="stroke-width:0.9"/>
<circle class="mh" cx="325.4" cy="236" r="2.3"/><path class="mh" d="M323.79999999999995,236 h3.2 M325.4,234.4 v3.2" style="stroke-width:0.9"/>
<circle class="mh" cx="402.6" cy="235.4" r="2.3"/><path class="mh" d="M401.0,235.4 h3.2 M402.6,233.8 v3.2" style="stroke-width:0.9"/>
<circle class="mh" cx="413.7" cy="249.4" r="2.3"/><path class="mh" d="M412.09999999999997,249.4 h3.2 M413.7,247.8 v3.2" style="stroke-width:0.9"/>
<ellipse class="mf" cx="371.8" cy="193" rx="21.5" ry="24" style="stroke-width:3"/>
<ellipse class="mh" cx="371" cy="193" rx="18.8" ry="21.3" style="stroke-width:1.4;opacity:0.55"/>
<circle class="mh" cx="371.5" cy="193" r="8" style="stroke-width:1.4;opacity:0.8"/>
<path class="mf" d="M370,156 L371,151 L386,151.5 L389,155 Q380,157 370,156 Z" style="fill:currentColor;opacity:0.85"/></g>
<path class="m" d="M1188,247.6 L1198,247.6 L1198,287.4 L1190,287.4"/>
<path class="k" d="M1192,256 C1188,262 1186,272 1188,280" style="stroke-width:2.5"/>
<path class="m" d="M991.4,660.7 C993.7,661.5 999.8,664.0 1005.0,665.5 C1010.2,667.0 1016.8,669.5 1022.6,669.9 C1028.4,670.3 1034.1,669.1 1040.0,668.0 C1045.9,666.9 1051.4,664.7 1058.0,663.5 C1064.6,662.3 1072.8,660.1 1079.4,660.7 C1086.1,661.3 1092.7,665.0 1097.9,667.0 C1103.1,669.0 1106.2,671.6 1110.7,672.7 C1115.2,673.8 1120.5,674.0 1124.9,673.4 C1129.3,672.8 1133.5,670.8 1137.0,669.0 C1140.5,667.2 1144.7,663.8 1146.2,662.8"/>
<path class="m" d="M1022.6,669.9 L1022.6,746.6 M1059.5,664 L1059.5,688.4 M1061.7,663.5 L1061.7,687 M1089.4,662 L1089.4,694 M1124.9,673.4 L1124.9,695.5"/>
<path class="k" d="M1022.6,687.6 Q1041,693.5 1059.5,688.4" style="stroke-width:2"/>
<path class="k" d="M1089.4,694 Q1107,699.5 1125.6,694.7" style="stroke-width:2"/>
<path class="m" d="M1098,669 L1110,672 L1099,678 Z" style="stroke-width:1.2"/>
<path class="m" d="M1066,692 Q1073,685 1082,688" style="stroke-width:1.3"/>
<line class="m" x1="1031.8" y1="691" x2="1031.8" y2="749.4"/>
<path class="lg" d="M1031.8,692.6 L1097.9,696.9" style="stroke-width:1.8"/>
<line class="m" x1="1097.9" y1="696.9" x2="1097.9" y2="752"/>
<line class="m" x1="1124.9" y1="696" x2="1124.9" y2="752.5"/>
<path class="m" d="M1125.6,691.2 L1142,691.9 L1143.4,749.4"/>
<path class="lg" d="M1126,694 L1142,694.5" style="stroke-width:2;stroke:#aaa"/>
<path class="m" d="M1021.2,745.2 L984.3,756.5 L984.3,772.2 L1096.5,782.1 L1109.3,780.7 L1150.5,769.3 L1150.5,755 L1143.4,749.4"/>
<path class="m" d="M984.3,756.5 L1096.5,766.5 L1150.5,755"/>
<path class="m" d="M1096.5,766.5 L1096.5,782.1 M1096.5,766.5 Q1105,770 1109.3,770.5 L1109.3,780.7 M1109.3,770.5 L1150.5,758"/>
<path class="lg" d="M1031.8,748 L1124.9,755" style="stroke-width:2.2;stroke:#aaa"/>
<path d="M1028,814 A40,8 0 0 1 1108,814" fill="none" stroke="#333" stroke-width="2.2"/>
<path d="M1042,814 A26,5 0 0 1 1094,814" fill="none" stroke="#555" stroke-width="1.3"/>
<line x1="1068" y1="780" x2="1068" y2="863" stroke="#1e1e1e" stroke-width="6.5"/>
<path d="M1028,814 A40,8 0 0 0 1108,814" fill="none" stroke="#333" stroke-width="2.2"/>
<path d="M1042,814 A26,5 0 0 0 1094,814" fill="none" stroke="#555" stroke-width="1.3"/>
<path d="M1030,817 A40,8 0 0 0 1106,817" fill="none" stroke="#888" stroke-width="1"/>
</svg>
</body></html>
